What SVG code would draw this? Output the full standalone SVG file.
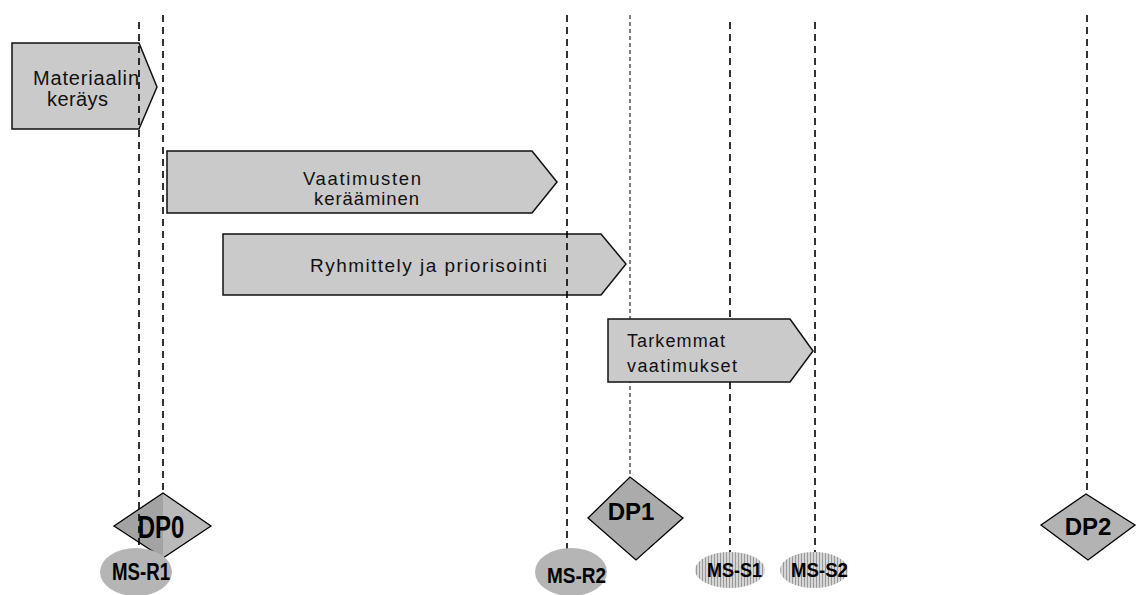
<svg xmlns="http://www.w3.org/2000/svg" width="1137" height="595" viewBox="0 0 1137 595">
  <style>
    .phase { fill: #cacaca; stroke: #111; stroke-width: 1.5; stroke-linejoin: miter; }
    .phase-label { font-family: "Liberation Sans", Arial, sans-serif; fill: #111; }
    .gate { stroke: #000; stroke-width: 1.3; stroke-linejoin: miter; }
    .gate-half { stroke: none; }
    .gate-label { font-family: "Liberation Sans", Arial, sans-serif; font-weight: bold; font-size: 24px; fill: #000; text-anchor: middle; }
    .ms-label { font-family: "Liberation Sans", Arial, sans-serif; font-weight: bold; fill: #000; }
    .guide { stroke: #000; stroke-width: 1.6; stroke-dasharray: 7 5; fill: none; }
    .guide-thin { stroke: #000; stroke-width: 1; stroke-dasharray: 4 3; fill: none; }
  </style>
  <defs>
    <pattern id="stripes" width="3" height="4" patternUnits="userSpaceOnUse">
      <rect width="3" height="4" fill="#d6d6d6"/>
      <rect x="0" width="1" height="4" fill="#999"/>
    </pattern>
  </defs>

  <rect width="1137" height="595" fill="#fff"/>

  <!-- phase arrows -->
  <g id="phase-materiaalin">
    <polygon class="phase" points="12,43 139,43 157,87 139,129 12,129"/>
    <text class="phase-label" x="33" y="85" font-size="20" textLength="106">Materiaalin</text>
    <text class="phase-label" x="47" y="106" font-size="20" textLength="61">keräys</text>
  </g>
  <g id="phase-vaatimusten">
    <polygon class="phase" points="167,151 532,151 557,182 532,213 167,213"/>
    <text class="phase-label" x="303" y="185" font-size="18.5" textLength="118">Vaatimusten</text>
    <text class="phase-label" x="314" y="205" font-size="18.5" textLength="105">kerääminen</text>
  </g>
  <g id="phase-ryhmittely">
    <polygon class="phase" points="223,234 601,234 626,264 601,295 223,295"/>
    <text class="phase-label" x="310" y="272" font-size="19" textLength="237">Ryhmittely ja priorisointi</text>
  </g>

  <!-- decision points -->
  <g id="dp0">
    <polygon class="gate-half" points="114,526 163,493 163,558" fill="#a3a3a3"/>
    <polygon class="gate-half" points="163,493 211,526 163,558" fill="#bababa"/>
    <polygon class="gate" points="114,526 163,493 211,526 163,558" fill="none"/>
    <text class="gate-label" transform="translate(161,538) scale(1,1.27)">DP0</text>
  </g>
  <g id="dp1">
    <polygon class="gate" points="588,518 630,477 683,518 636,560" fill="#ababab"/>
    <text class="gate-label" x="631" y="520">DP1</text>
  </g>
  <g id="dp2">
    <polygon class="gate" points="1041,525 1086,494 1135,525 1088,560" fill="#b3b3b3"/>
    <text class="gate-label" x="1088" y="535">DP2</text>
  </g>

  <!-- timeline guide lines -->
  <g id="connectors">
    <line class="guide" x1="139" y1="22" x2="139" y2="550"/>
    <line class="guide" x1="163" y1="15" x2="163" y2="493"/>
    <line class="guide" x1="567" y1="15" x2="567" y2="550"/>
    <line class="guide-thin" x1="630" y1="15" x2="630" y2="477"/>
    <line class="guide" x1="730" y1="22" x2="730" y2="553"/>
    <line class="guide" x1="815" y1="22" x2="815" y2="553"/>
    <line class="guide" x1="1087" y1="15" x2="1087" y2="494"/>
  </g>

  <g id="phase-tarkemmat">
    <polygon class="phase" points="608,319 790,319 813,351 790,382 608,382"/>
    <text class="phase-label" x="627" y="347" font-size="18" textLength="98">Tarkemmat</text>
    <text class="phase-label" x="627" y="372" font-size="18" textLength="110">vaatimukset</text>
  </g>

  <!-- milestones -->
  <g id="ms-r1">
    <ellipse cx="136" cy="572" rx="36" ry="24" fill="#b5b5b5"/>
    <text class="ms-label" x="112" y="580" font-size="23" textLength="58" lengthAdjust="spacingAndGlyphs">MS-R1</text>
  </g>
  <g id="ms-r2">
    <ellipse cx="571" cy="572" rx="36" ry="24" fill="#b5b5b5"/>
    <text class="ms-label" x="547" y="583" font-size="22" textLength="59" lengthAdjust="spacingAndGlyphs">MS-R2</text>
  </g>
  <g id="ms-s1">
    <ellipse cx="730" cy="570" rx="35" ry="18" fill="url(#stripes)"/>
    <text class="ms-label" x="707" y="577" font-size="21" textLength="55" lengthAdjust="spacingAndGlyphs">MS-S1</text>
  </g>
  <g id="ms-s2">
    <ellipse cx="814" cy="570" rx="34" ry="18" fill="url(#stripes)"/>
    <text class="ms-label" x="791" y="577" font-size="21" textLength="57" lengthAdjust="spacingAndGlyphs">MS-S2</text>
  </g>
</svg>
